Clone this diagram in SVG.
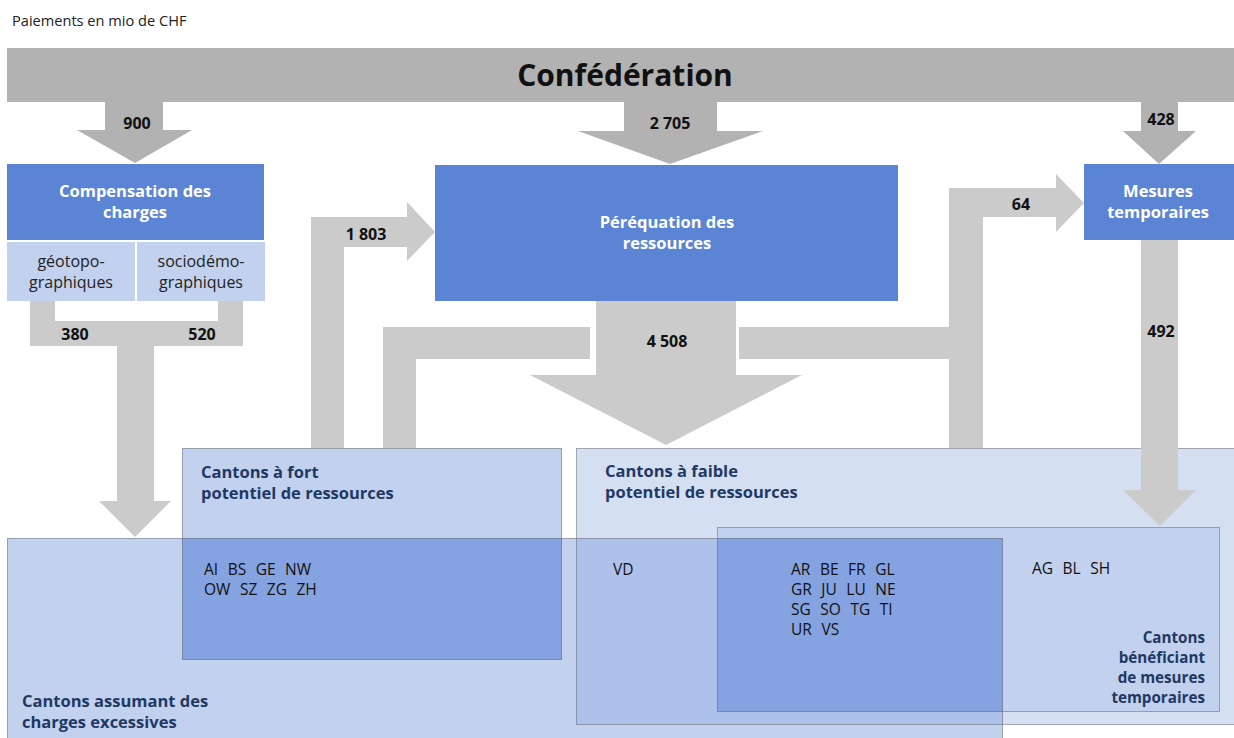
<svg xmlns="http://www.w3.org/2000/svg" width="1234" height="738" viewBox="0 0 1234 738">
<style>
text{font-family:"Open Sans","Noto Sans","Liberation Sans",sans-serif}
.dark{fill:#b2b2b2}
.light{fill:#cbcbcb}
.blue{fill:#5b84d4}
.sub{fill:#c2d1ee}
.num{font-size:16px;font-weight:bold;fill:#111;text-anchor:middle}
.wt{font-size:16.5px;font-weight:bold;fill:#fff;text-anchor:middle}
.st{font-size:16px;fill:#222;text-anchor:middle}
.hd{font-size:16.5px;font-weight:bold;fill:#1f3864}
.hr{font-size:15.2px;font-weight:bold;fill:#1f3864;text-anchor:end}
.cc{font-size:15.5px;fill:#111;word-spacing:5.5px}
.bd{fill:none;stroke:#6b6b6b;stroke-width:1;stroke-dasharray:1 1}
</style>
<rect width="1234" height="738" fill="#fff"/>
<text x="12" y="26" style="font-size:14.6px;fill:#222">Paiements en mio de CHF</text>

<g id="canton-areas">
<rect x="576" y="448" width="658" height="277" fill="#d5dff2"/>
<rect x="7" y="538" width="996" height="200" fill="#c2d1ee"/>
<rect x="576" y="538" width="427" height="187" fill="#adc1ea"/>
<rect x="717" y="527" width="503" height="185" fill="#c2d1ee"/>
<rect x="717" y="538" width="286" height="174" fill="#85a3e0"/>
<rect x="182" y="448" width="380" height="90" fill="#c2d1ee"/>
<rect x="182" y="538" width="380" height="122" fill="#85a3e0"/>
<rect class="bd" x="7.5" y="538.5" width="995" height="205"/>
<rect class="bd" x="576.5" y="448.5" width="662" height="276"/>
<rect class="bd" x="717.5" y="527.5" width="502" height="184"/>
<rect class="bd" x="182.5" y="448.5" width="379" height="211"/>
</g>

<g id="connectors">
<path class="dark" d="M105,102 H163 V130 H192 L135,163 L77,130 H105 Z"/>
<path class="dark" d="M624,102 H717 V131 H763 L670,164 L578,131 H624 Z"/>
<path class="dark" d="M1141,102 H1178 V131 H1196 L1159,164 L1123,131 H1141 Z"/>
<path class="light" d="M30,300 H55 V321 H218 V300 H243 V346 H154 V501 H171 L135,537 L99,501 H117 V346 H30 Z"/>
<path class="light" d="M311,448 V217 H407 V202 L435,232 L407,261 V247 H344 V448 Z"/>
<path class="light" d="M383,448 V327 H590 V359 H416 V448 Z"/>
<path class="light" d="M596,301 H736 V375 H802 L666,445 L530,375 H596 Z"/>
<rect class="light" x="739" y="327" width="212" height="32"/>
<path class="light" d="M949,448 V188 H1056 V174 L1084,203 L1056,232 V217 H983 V448 Z"/>
<path class="light" d="M1141,240 H1178 V490 H1196 L1160,526 L1123,490 H1141 Z"/>
<text class="num" x="137" y="129">900</text>
<text class="num" x="670" y="129">2 705</text>
<text class="num" x="1161" y="125">428</text>
<text class="num" x="75" y="340">380</text>
<text class="num" x="202" y="340">520</text>
<text class="num" x="366" y="240">1 803</text>
<text class="num" x="667" y="347">4 508</text>
<text class="num" x="1021" y="210">64</text>
<text class="num" x="1161" y="337">492</text>
</g>

<g id="confederation">
<rect class="dark" x="7" y="48" width="1227" height="54"/>
<text x="625" y="86" style="font-size:30px;font-weight:bold;fill:#111;text-anchor:middle">Confédération</text>
</g>

<g id="compensation">
<rect class="blue" x="7" y="164" width="257" height="76"/>
<text class="wt" x="135" y="197">Compensation des</text>
<text class="wt" x="135" y="218">charges</text>
</g>
<g id="geotopo">
<rect class="sub" x="7" y="242" width="128" height="59"/>
<text class="st" x="71" y="267">géotopo-</text>
<text class="st" x="71" y="288">graphiques</text>
</g>
<g id="sociodemo">
<rect class="sub" x="137" y="242" width="128" height="59"/>
<text class="st" x="201" y="267">sociodémo-</text>
<text class="st" x="201" y="288">graphiques</text>
</g>
<g id="perequation">
<rect class="blue" x="435" y="165" width="463" height="136"/>
<text class="wt" x="667" y="228">Péréquation des</text>
<text class="wt" x="667" y="249">ressources</text>
</g>
<g id="mesures">
<rect class="blue" x="1084" y="164" width="150" height="76"/>
<text class="wt" x="1158" y="197">Mesures</text>
<text class="wt" x="1158" y="218">temporaires</text>
</g>

<g id="cantons-fort">
<text class="hd" x="201" y="478">Cantons à fort</text>
<text class="hd" x="201" y="499">potentiel de ressources</text>
<text class="cc" x="204" y="575">AI BS GE NW</text>
<text class="cc" x="204" y="595">OW SZ ZG ZH</text>
</g>
<g id="cantons-faible">
<text class="hd" x="605" y="477">Cantons à faible</text>
<text class="hd" x="605" y="498">potentiel de ressources</text>
<text class="cc" x="613" y="575">VD</text>
<text class="cc" x="791" y="575">AR BE FR GL</text>
<text class="cc" x="791" y="595">GR JU LU NE</text>
<text class="cc" x="791" y="615">SG SO TG TI</text>
<text class="cc" x="791" y="635">UR VS</text>
</g>
<g id="cantons-mesures">
<text class="cc" x="1032" y="574">AG BL SH</text>
<text class="hr" x="1205" y="643">Cantons</text>
<text class="hr" x="1205" y="663">bénéficiant</text>
<text class="hr" x="1205" y="683">de mesures</text>
<text class="hr" x="1205" y="703">temporaires</text>
</g>
<g id="cantons-charges">
<text class="hd" x="22" y="707">Cantons assumant des</text>
<text class="hd" x="22" y="728">charges excessives</text>
</g>
</svg>
